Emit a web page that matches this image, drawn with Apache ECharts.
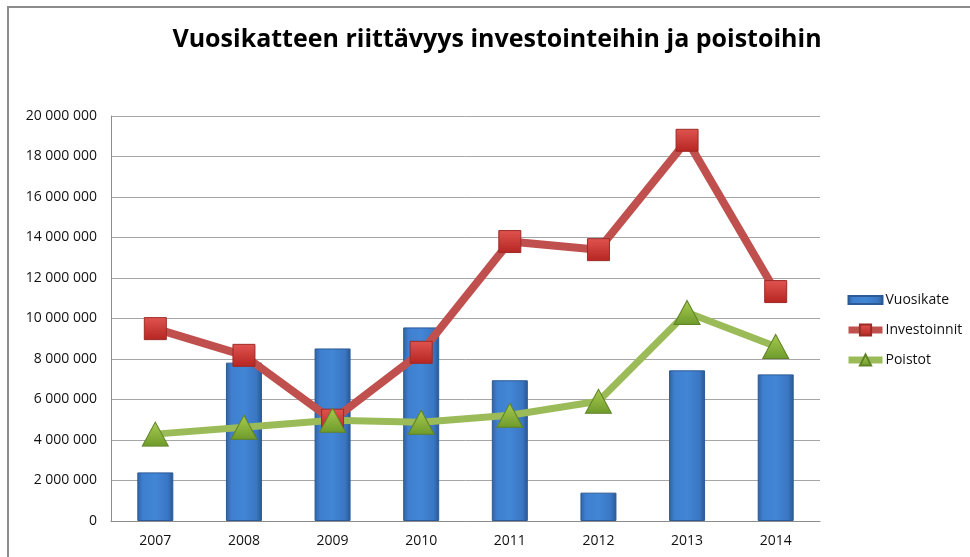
<!DOCTYPE html>
<html>
<head>
<meta charset="utf-8">
<script src="https://cdn.jsdelivr.net/npm/echarts@6/dist/echarts.min.js"></script>
<style>
  html, body { margin: 0; padding: 0; background: #fff; }
  #chart { width: 970px; height: 557px; }
</style>
</head>
<body>
<div id="chart"></div>
<script>
// vuodet ja sarjat
var vuodet = ['2007', '2008', '2009', '2010', '2011', '2012', '2013', '2014'];
var vuosikate = [2400000, 7820000, 8520000, 9560000, 6950000, 1400000, 7440000, 7240000];
var investoinnit = [9500000, 8180000, 4980000, 8330000, 13800000, 13400000, 18800000, 11330000];
var poistot = [4290000, 4630000, 4980000, 4880000, 5220000, 5910000, 10300000, 8620000];

var chart = echarts.init(document.getElementById('chart'));

// suomalainen tuhaterotin
function fmt(v) {
    return String(v).replace(/\B(?=(\d{3})+(?!\d))/g, ' ');
}

var barColor = new echarts.graphic.LinearGradient(0, 0, 1, 0, [
    { offset: 0, color: '#2f62a4' },
    { offset: 0.15, color: '#3f7fcf' },
    { offset: 0.5, color: '#4286d6' },
    { offset: 0.85, color: '#3a76c2' },
    { offset: 1, color: '#2a5792' }
]);
var redMarker = new echarts.graphic.LinearGradient(0, 0, 0, 1, [
    { offset: 0, color: '#e05450' },
    { offset: 1, color: '#b52522' }
]);
var greenMarker = new echarts.graphic.LinearGradient(0, 0, 0, 1, [
    { offset: 0, color: '#a8cc4e' },
    { offset: 1, color: '#6e9a2c' }
]);

var option = {
    animation: false,
    backgroundColor: '#fff',
    textStyle: { fontFamily: 'Open Sans' },
    graphic: [{
        type: 'rect',
        shape: { x: 8, y: 7, width: 1000, height: 600 },
        style: { fill: 'none', stroke: '#8c8c8c', lineWidth: 2 },
        silent: true
    }],
    title: {
        text: 'Vuosikatteen riittävyys investointeihin ja poistoihin',
        left: 492,
        textAlign: 'center',
        top: 22,
        textStyle: { fontFamily: 'Open Sans', fontWeight: 'bold', fontSize: 25, color: '#000' }
    },
    legend: {
        orient: 'vertical',
        left: 840,
        top: 288,
        itemGap: 16,
        itemWidth: 34,
        itemHeight: 14,
        textStyle: { fontSize: 14, color: '#111', padding: [0, 0, 0, -2] },
        data: [
            { name: 'Vuosikate', icon: 'path://M0,4 L34,4 L34,12 L0,12 Z' },
            { name: 'Investoinnit', lineStyle: { width: 7 } },
            { name: 'Poistot', lineStyle: { width: 7 } }
        ]
    },
    grid: { left: 111, right: 150, top: 116, bottom: 36, containLabel: false },
    xAxis: {
        type: 'category',
        data: vuodet,
        axisLine: { lineStyle: { color: '#8c8c8c', width: 1 } },
        axisTick: { show: false },
        axisLabel: { fontSize: 14, color: '#111', margin: 13 }
    },
    yAxis: {
        type: 'value',
        min: 0,
        max: 20000000,
        interval: 2000000,
        axisLine: { show: true, lineStyle: { color: '#8c8c8c' } },
        axisTick: { show: false },
        splitLine: { lineStyle: { color: '#a6a6a6' } },
        axisLabel: { fontSize: 14, color: '#111', margin: 14, formatter: fmt }
    },
    series: [
        {
            name: 'Vuosikate',
            type: 'bar',
            data: vuosikate,
            barWidth: 36,
            itemStyle: { color: barColor, borderColor: '#2b5a96', borderWidth: 1 }
        },
        {
            name: 'Investoinnit',
            type: 'line',
            data: investoinnit,
            symbol: 'rect',
            symbolSize: 22,
            lineStyle: { color: '#c0504d', width: 8 },
            itemStyle: { color: redMarker, borderColor: '#9c2a27', borderWidth: 1 }
        },
        {
            name: 'Poistot',
            type: 'line',
            data: poistot,
            symbol: 'triangle',
            symbolSize: [26, 24],
            lineStyle: { color: '#9bbb59', width: 7 },
            itemStyle: { color: greenMarker, borderColor: '#5f8326', borderWidth: 1 }
        }
    ]
};

chart.setOption(option);
</script>
</body>
</html>
